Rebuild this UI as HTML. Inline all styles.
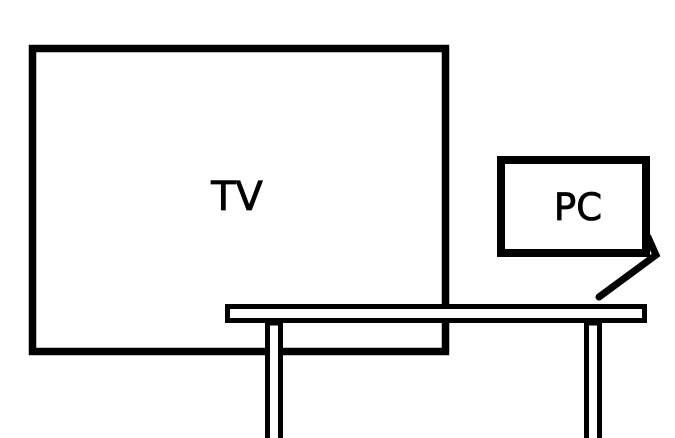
<!DOCTYPE html>
<html><head><meta charset="utf-8"><style>
html,body{margin:0;padding:0;background:#fff;}
svg{display:block;}
text{font-family:"DejaVu Sans","Liberation Sans",sans-serif;fill:#000;stroke:#000;stroke-width:0.8;}
</style></head><body>
<svg width="675" height="438" viewBox="0 0 675 438" xmlns="http://www.w3.org/2000/svg">
<rect x="0" y="0" width="675" height="438" fill="#fff"/>
<!-- TV -->
<rect x="32.5" y="48.5" width="413" height="303" fill="none" stroke="#000" stroke-width="7.5"/>
<text x="237" y="210" font-size="40" text-anchor="middle">TV</text>
<!-- PC -->
<rect x="501" y="160" width="145" height="93" fill="none" stroke="#000" stroke-width="8"/>
<text x="578" y="220" font-size="37" text-anchor="middle">PC</text>
<polyline points="648,237 656,255 599,297" fill="none" stroke="#000" stroke-width="7" stroke-linecap="round" stroke-linejoin="miter"/>
<!-- table -->
<rect x="227.5" y="306.5" width="417" height="14" fill="#fff" stroke="#000" stroke-width="5"/>
<rect x="267.5" y="323" width="13" height="120" fill="#fff" stroke="#000" stroke-width="5"/>
<rect x="586.5" y="323" width="13" height="120" fill="#fff" stroke="#000" stroke-width="5"/>
</svg>
</body></html>
